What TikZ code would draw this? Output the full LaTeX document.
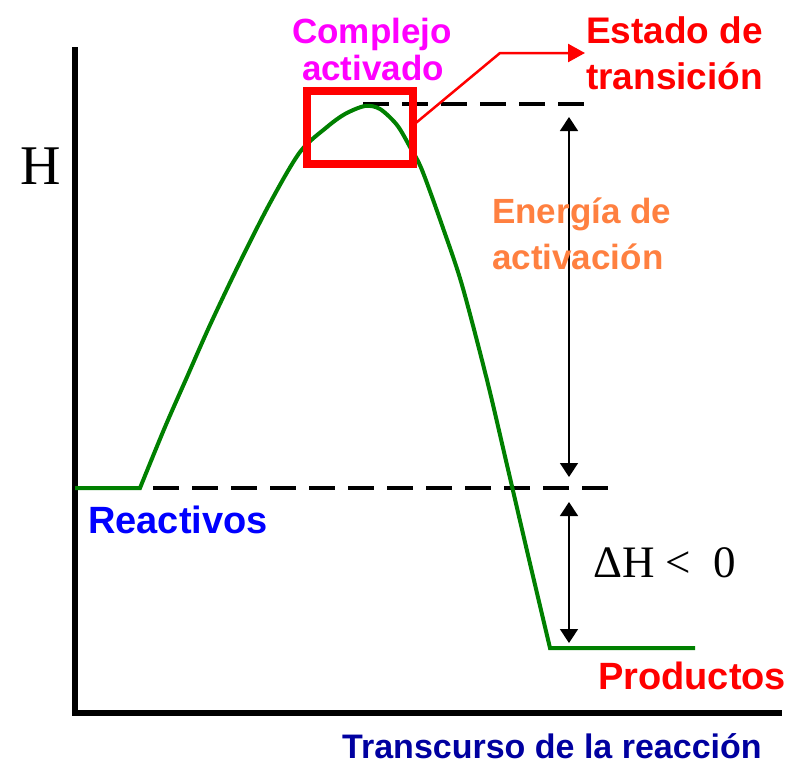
\documentclass[tikz,border=0pt]{standalone}
\usepackage{fontspec}
\setmainfont{Liberation Sans}
\newfontfamily\serifH{Liberation Serif}
\usetikzlibrary{arrows.meta}

\definecolor{curvegreen}{RGB}{0,128,0}
\definecolor{orangeE}{RGB}{255,128,64}
\definecolor{darkblue}{RGB}{0,0,160}
\definecolor{pinkM}{RGB}{255,0,255}
\definecolor{redT}{RGB}{255,0,0}
\definecolor{blueR}{RGB}{0,0,255}

\tikzset{
  label/.style={inner sep=0pt, anchor=base west, font=\bfseries\fontsize{#1}{#1}\selectfont},
  dashline/.style={line width=4.5pt, dash pattern=on 26pt off 13pt},
  dimarrow/.style={line width=1.5pt, {Triangle[width=18pt,length=14pt]}-{Triangle[width=18pt,length=14pt]}},
  pointer/.style={redT, line width=2.5pt, -{Triangle[width=18pt,length=17pt]}}
}

\begin{document}
\begin{tikzpicture}[x=1pt,y=-1pt] %Diagrama de entalpía
            \useasboundingbox (0,0) rectangle (787,764);

            \coordinate (Y) at (75,47);
            \coordinate (X) at (782,713);

            \draw[line width=6pt] (Y) |- (X);

            \coordinate (R0) at (153,488);
            \coordinate (R1) at (610,488);
            \coordinate (T0) at (363,104);
            \coordinate (T1) at (588,104);

            \draw[dashline] (R0) -- (R1);
            \draw[dashline] (T0) -- (T1);

            \draw[curvegreen, line width=4pt] (75,488) -- plot[smooth, tension=0.5] coordinates {(140,488) (165,427) (187,377) (210,325) (240,262) (270,203) (300,152) (327,127) (345,114) (365,106) (380,109) (397,125) (410,147) (422,170) (443,228) (462,285) (487,380) (507,465) (528,555) (550,648)} -- (695,648);

            \coordinate (A1) at (569,117);
            \coordinate (A2) at (569,477);
            \coordinate (B1) at (569,502);
            \coordinate (B2) at (569,643);

            \draw[dimarrow] (A1) -- (A2);
            \draw[dimarrow] (B1) -- (B2);

            \draw[redT, line width=8pt] (307,91) rectangle (413,164);

            \coordinate (C) at (411,127);
            \coordinate (D) at (500,53);
            \coordinate (E) at (585,53);
            \draw[pointer] (C) -- (D) -- (E);

            \node[label=35, anchor=base, pinkM] (comp) at (372,43) {Complejo};
            \node[label=35, anchor=base, pinkM] (act) at (373,80) {activado};
            \node[label=37, redT] (est) at (586,43) {Estado de};
            \node[label=37, redT] (tra) at (586,89) {transición};
            \node[label=35, orangeE] (ene) at (492,223) {Energía de};
            \node[label=35, orangeE] (actv) at (492,269) {activación};
            \node[label=38, blueR] (reac) at (88,533) {Reactivos};
            \node[label=38, redT] (prod) at (598,689) {Productos};
            \node[label=34, darkblue] (trans) at (342,758) {Transcurso de la reacción};
            \node[inner sep=0pt, anchor=base west, font=\serifH\fontsize{45}{45}\selectfont] (dH) at (593,577) {ΔH <\hspace{22pt}0};
            \node[inner sep=0pt, anchor=base west, font=\serifH\fontsize{56}{56}\selectfont] (H) at (20,184) {H};
        \end{tikzpicture}
\end{document}
